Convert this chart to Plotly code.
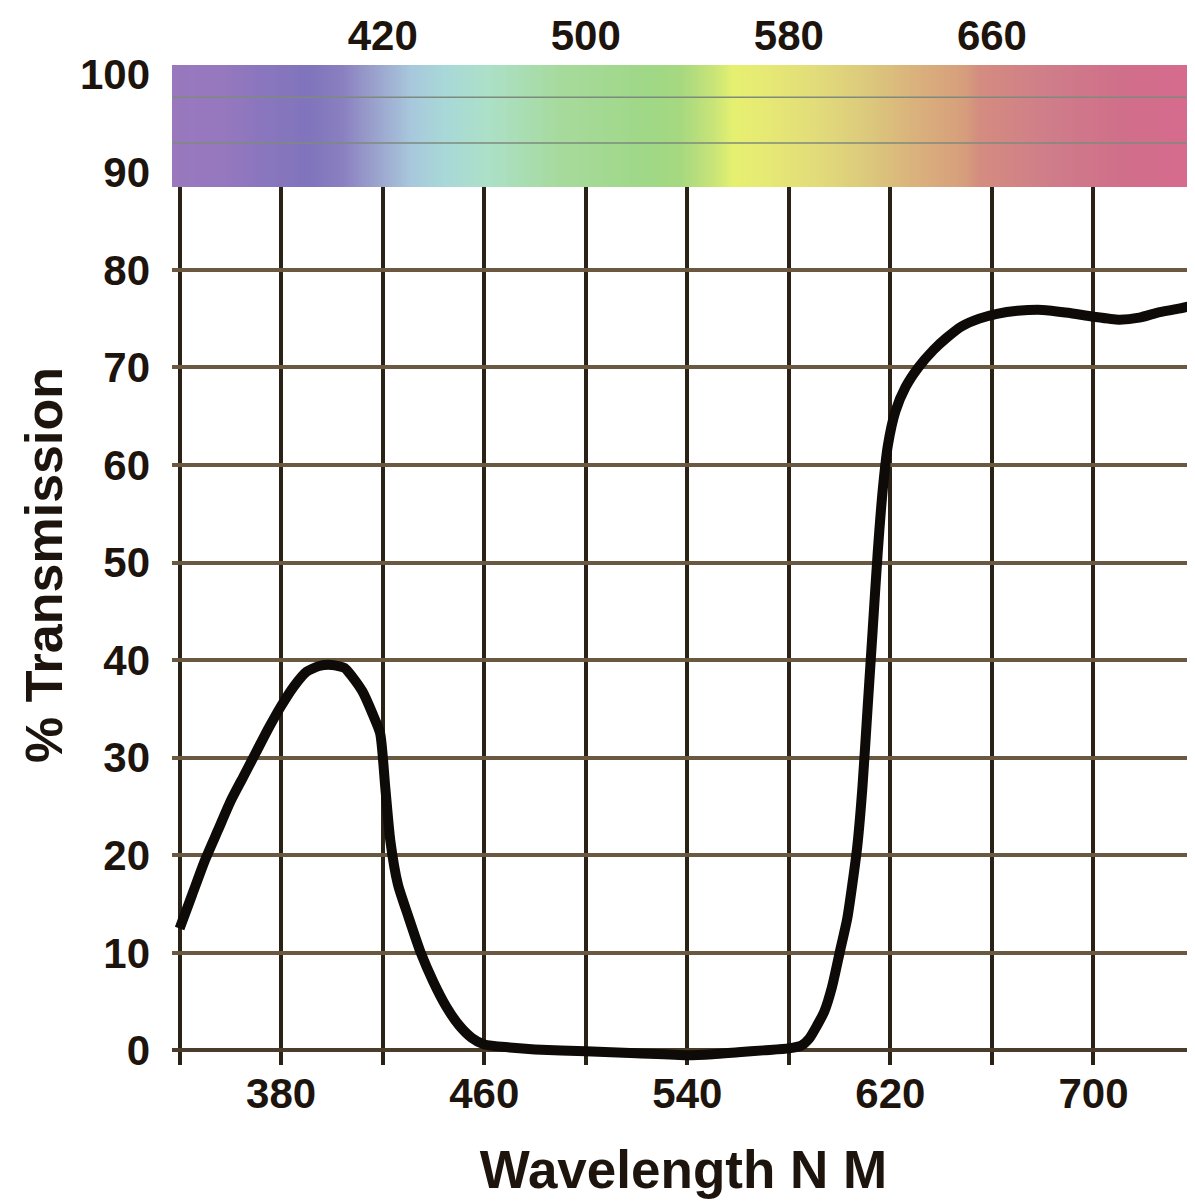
import plotly.graph_objects as go

# ---- data ----
wavelength_nm = [340, 345, 350, 355, 360, 365, 370, 375, 380, 385, 390, 395, 400, 405, 408,
                 412, 416, 419, 421, 423, 426, 430, 435, 440, 445, 450, 455, 460, 470, 480,
                 500, 520, 540, 550, 560, 570, 580, 585, 588, 591, 594, 597, 600, 603, 605,
                 607, 609, 611, 613, 615, 617, 619, 622, 626, 631, 637, 642, 648, 655, 662,
                 670, 680, 690, 700, 710, 718, 725, 733, 740]
transmission_pct = [12.5, 16.0, 19.5, 22.5, 25.5, 28.0, 30.5, 33.0, 35.3, 37.3, 38.8, 39.4, 39.5, 39.2, 38.3,
                    36.8, 34.5, 32.5, 27.0, 21.5, 17.0, 13.8, 10.0, 7.0, 4.5, 2.6, 1.3, 0.6, 0.3, 0.1,
                    -0.1, -0.3, -0.5, -0.4, -0.2, 0.0, 0.2, 0.5, 1.2, 2.5, 4.0, 6.5, 10.0, 13.5, 17.0,
                    21.0, 27.0, 35.0, 43.0, 51.0, 57.5, 62.0, 65.5, 68.0, 70.0, 71.8, 73.0, 74.2, 75.0, 75.5,
                    75.8, 75.9, 75.6, 75.2, 74.9, 75.1, 75.6, 76.0, 76.4]

# grid / tick labels
grid_nm = [340, 380, 420, 460, 500, 540, 580, 620, 660, 700, 740]
bottom_labels = ["", "380", "", "460", "", "540", "", "620", "", "700", ""]
top_tick_nm = [420, 500, 580, 660]
top_labels = ["420", "500", "580", "660"]
y_ticks = [0, 10, 20, 30, 40, 50, 60, 70, 80, 90, 100]

# colour band (visible spectrum strip) - colour stops by wavelength
spec_nm = [330, 356, 372, 391, 404, 416, 431, 444, 461, 490, 525, 537, 550, 558, 570,
           590, 609, 629, 649, 655, 684, 711, 745]
spec_colors = ["#9a78bd", "#9678be", "#8a76be", "#8074bc", "#8a80c0", "#9aa0cc", "#a8c8dc",
               "#a8d8d8", "#ace0c8", "#a6da9c", "#9fd886", "#a6d880", "#c8e478", "#e6f070",
               "#e6ea74", "#e2dc7a", "#dccb7c", "#dab27c", "#d69e7c", "#d48c80", "#cf7c8a",
               "#d06f8a", "#d86a90"]
band_y_edges = [88.5, 94.75, 101]
band_rule_levels = [93.0, 97.7]

lo, hi = spec_nm[0], spec_nm[-1]
colorscale = [[(v - lo) / (hi - lo), c] for v, c in zip(spec_nm, spec_colors)]

ink = "#1c140d"
font_family = "Liberation Sans, Arial, sans-serif"

fig = go.Figure()

fig.add_trace(go.Heatmap(
    x=spec_nm, y=band_y_edges, z=[spec_nm, spec_nm],
    colorscale=colorscale, zmin=lo, zmax=hi, zsmooth="best",
    showscale=False, hoverinfo="skip", xaxis="x2", yaxis="y",
))

fig.add_trace(go.Scatter(
    x=wavelength_nm, y=transmission_pct, mode="lines",
    line=dict(color="#0d0a08", width=10, shape="spline", smoothing=0.6),
    showlegend=False, hoverinfo="skip",
))

for lvl in band_rule_levels:
    fig.add_shape(type="line", xref="paper", x0=0, x1=1, yref="y", y0=lvl, y1=lvl,
                  line=dict(color="#7f8a7e", width=1.5), layer="above")

tick_font = dict(size=42, family=font_family, color=ink, weight="bold")
x_title_font = dict(size=53, family=font_family, color=ink, weight="bold")
y_title_font = dict(size=52, family=font_family, color=ink, weight="bold")

# page body adds an 8px offset, so the figure is sized to end at the window edge
fig.update_layout(
    width=1187, height=1194,
    margin=dict(l=164, r=0, t=57, b=137, autoexpand=False),
    paper_bgcolor="white", plot_bgcolor="white",
    showlegend=False,
    font=dict(family=font_family, color=ink),
    xaxis=dict(
        range=[337, 740], tickmode="array", tickvals=grid_nm, ticktext=bottom_labels,
        showgrid=True, gridcolor="#2a2117", gridwidth=4, zeroline=False,
        ticks="", showline=False, automargin=False,
        tickfont=tick_font, ticklabelstandoff=0,
        title=dict(text="Wavelength N M", standoff=34, font=x_title_font),
    ),
    xaxis2=dict(
        overlaying="x", side="top", matches="x", range=[337, 740],
        tickmode="array", tickvals=top_tick_nm, ticktext=top_labels,
        showgrid=False, zeroline=False, ticks="", showline=False, automargin=False,
        tickfont=tick_font, ticklabelstandoff=6,
    ),
    yaxis=dict(
        range=[-1.5, 101], tickmode="array", tickvals=y_ticks,
        showgrid=True, gridcolor="#6a5940", gridwidth=4,
        zeroline=True, zerolinecolor="#4a3b2a", zerolinewidth=4,
        ticks="", showline=False, automargin=False,
        tickfont=tick_font, ticklabelstandoff=21,
        title=dict(text="% Transmission", standoff=0, font=y_title_font),
    ),
)

fig.write_html("out.html")
